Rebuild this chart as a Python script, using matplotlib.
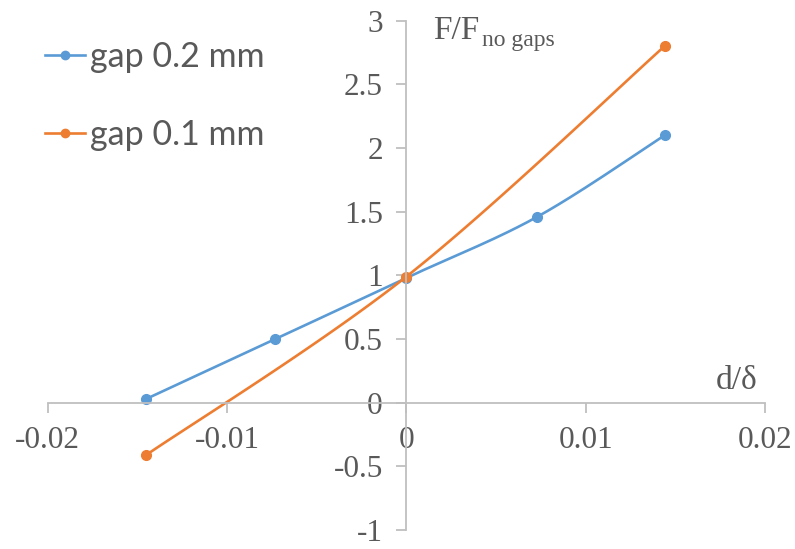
import numpy as np
import matplotlib.pyplot as plt

# Dados (d/delta, F/F sem gaps)
x_gap02 = [-0.0145, -0.0073, 0.0, 0.0073, 0.0144]
y_gap02 = [0.03, 0.50, 0.98, 1.46, 2.10]

x_gap01 = [-0.0145, 0.0, 0.0144]
y_gap01 = [-0.41, 0.99, 2.80]

azul = '#5B9BD5'
laranja = '#ED7D31'
cinza_texto = '#595959'
cinza_eixo = '#BFBFBF'


# Curva suavizada (Bezier com pontos de controle a 1/6, estilo planilha)
def suavizar(x, y, n=40):
    p = np.column_stack([x, y]).astype(float)
    p_ext = np.vstack([p[0], p, p[-1]])
    pts = []
    for i in range(len(p) - 1):
        p0 = p_ext[i + 1]
        p3 = p_ext[i + 2]
        c1 = p0 + (p_ext[i + 2] - p_ext[i]) / 6
        c2 = p3 - (p_ext[i + 3] - p_ext[i + 1]) / 6
        t = np.linspace(0, 1, n)[:, None]
        seg = ((1 - t) ** 3) * p0 + 3 * ((1 - t) ** 2) * t * c1 + 3 * (1 - t) * t ** 2 * c2 + t ** 3 * p3
        pts.append(seg if i == 0 else seg[1:])
    pts = np.vstack(pts)
    return pts[:, 0], pts[:, 1]


fig = plt.figure(figsize=(7.95, 5.49), dpi=100)
ax = fig.add_axes([0.06, 0.0346, 0.9023, 0.9277])

for x, y, cor, nome in [(x_gap02, y_gap02, azul, 'gap 0.2 mm'),
                        (x_gap01, y_gap01, laranja, 'gap 0.1 mm')]:
    xs, ys = suavizar(x, y)
    ax.plot(xs, ys, color=cor, lw=1.9, solid_capstyle='round')
    ax.plot(x, y, 'o', color=cor, ms=7, ls='none')
    # entrada da legenda: linha com marcador
    ax.plot([], [], color=cor, lw=1.9, marker='o', ms=6, label=nome)

ax.set_xlim(-0.02, 0.02)
ax.set_ylim(-1, 3)
ax.set_xticks([-0.02, -0.01, 0, 0.01, 0.02])
ax.set_xticklabels(['-0.02', '-0.01', '0', '0.01', '0.02'])
ax.set_yticks([-1, -0.5, 0, 0.5, 1, 1.5, 2, 2.5, 3])
ax.set_yticklabels(['-1', '-0.5', '0', '0.5', '1', '1.5', '2', '2.5', '3'])

# Eixos cruzando na origem
ax.spines['left'].set_position(('data', 0))
ax.spines['bottom'].set_position(('data', 0))
ax.spines['top'].set_visible(False)
ax.spines['right'].set_visible(False)
for s in ['left', 'bottom']:
    ax.spines[s].set_color(cinza_eixo)
    ax.spines[s].set_linewidth(1.3)

fonte_serif = 'Liberation Serif'
ax.tick_params(axis='both', colors=cinza_eixo, width=1.3, length=7, direction='out')
ax.tick_params(axis='x', pad=10)
ax.tick_params(axis='y', pad=10)
for lab in ax.get_xticklabels() + ax.get_yticklabels():
    lab.set_fontfamily(fonte_serif)
    lab.set_fontsize(22.5)
    lab.set_color(cinza_texto)

# Títulos dos eixos
ax.text(0.0015, 2.86, 'F/F', fontfamily=fonte_serif, fontsize=24, color=cinza_texto,
        ha='left', va='baseline')
ax.text(0.0042, 2.80, 'no gaps', fontfamily=fonte_serif, fontsize=17, color=cinza_texto,
        ha='left', va='baseline')
ax.text(0.0196, 0.11, 'd/δ', fontfamily=fonte_serif, fontsize=24, color=cinza_texto,
        ha='right', va='baseline')

leg = ax.legend(loc='upper left', bbox_to_anchor=(0.056, 0.925), bbox_transform=fig.transFigure,
                frameon=False, prop={'family': 'Lato', 'size': 24.5}, handlelength=1.18,
                handletextpad=0.15, labelspacing=1.35, borderaxespad=0, borderpad=0)
for t in leg.get_texts():
    t.set_color(cinza_texto)

fig.savefig('out.png', dpi=100, facecolor='white')
